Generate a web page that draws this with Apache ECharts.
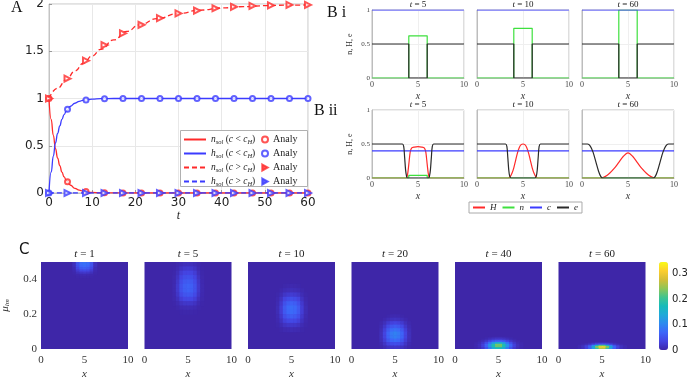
<!DOCTYPE html>
<html>
<head>
<meta charset="UTF-8">
<title>model panels</title>
<script src="https://cdn.jsdelivr.net/npm/echarts@6/dist/echarts.min.js"></script>
<style>
html, body { margin: 0; padding: 0; background: #fff; }
#main { width: 691px; height: 379px; }
</style>
</head>
<body>
<div id="main"></div>
<script>
// ---------- A : totals against t ----------
var tMarks = [0, 4.29, 8.57, 12.86, 17.14, 21.43, 25.71, 30, 34.29, 38.57, 42.86, 47.14, 51.43, 55.71, 60];
var nBelowMarks = [1, 0.12, 0.015, 0.002, 0, 0, 0, 0, 0, 0, 0, 0, 0, 0, 0];
var hBelowMarks = [0, 0.885, 0.985, 0.998, 1, 1, 1, 1, 1, 1, 1, 1, 1, 1, 1];
var nAboveMarks = [1, 1.21, 1.40, 1.565, 1.69, 1.78, 1.85, 1.9, 1.93, 1.955, 1.97, 1.98, 1.985, 1.99, 1.99];
var hAboveMarks = [0, 0, 0, 0, 0, 0, 0, 0, 0, 0, 0, 0, 0, 0, 0];

var tLine = [0, 0.5, 1, 1.5, 2, 2.5, 3, 3.5, 4, 5, 6, 7, 8, 10, 12, 15, 20, 30, 40, 50, 60];
var nBelowLine = [1, 0.78, 0.61, 0.47, 0.37, 0.29, 0.22, 0.17, 0.135, 0.082, 0.05, 0.03, 0.018, 0.007, 0.002, 0.001, 0, 0, 0, 0, 0];
var hBelowLine = [0, 0.22, 0.39, 0.53, 0.63, 0.71, 0.78, 0.83, 0.865, 0.918, 0.95, 0.97, 0.982, 0.993, 0.998, 1, 1, 1, 1, 1, 1];
var tAbove = [0, 2, 4, 6, 8, 10, 12, 15, 18, 21, 25, 30, 35, 40, 45, 50, 55, 60];
var nAboveLine = [1, 1.11, 1.2, 1.29, 1.375, 1.45, 1.52, 1.62, 1.71, 1.78, 1.845, 1.9, 1.935, 1.958, 1.972, 1.982, 1.988, 1.99];
var tFlat = [0, 60];
var hAboveLine = [0, 0];

// ---------- B : profiles along x ----------
var bTimes = ['5', '10', '60'];
var biC = [[0, 1], [10, 1]];
var biE = [[0, 0.5], [4, 0.5], [4, 0], [6, 0], [6, 0.5], [10, 0.5]];
var biN = [
  [[0, 0], [4, 0], [4, 0.62], [6, 0.62], [6, 0], [10, 0]],
  [[0, 0], [4, 0], [4, 0.73], [6, 0.73], [6, 0], [10, 0]],
  [[0, 0], [4, 0], [4, 1], [6, 1], [6, 0], [10, 0]]
];
var biiC = [[0, 0.4], [10, 0.4]];
var biiH = [
  [[0, 0], [3.7, 0], [3.85, 0.04], [4.0, 0.2], [4.15, 0.38], [4.3, 0.44], [4.6, 0.455], [5, 0.46], [5.4, 0.455], [5.7, 0.44], [5.85, 0.38], [6.0, 0.2], [6.15, 0.04], [6.3, 0], [10, 0]],
  [[0, 0], [3.4, 0], [3.6, 0.02], [3.8, 0.07], [4.0, 0.15], [4.2, 0.26], [4.4, 0.37], [4.6, 0.45], [4.8, 0.49], [5, 0.5], [5.2, 0.49], [5.4, 0.45], [5.6, 0.37], [5.8, 0.26], [6.0, 0.15], [6.2, 0.07], [6.4, 0.02], [6.6, 0], [10, 0]],
  [[0, 0], [2.1, 0], [2.5, 0.02], [3, 0.07], [3.5, 0.14], [4, 0.23], [4.5, 0.32], [5, 0.37], [5.5, 0.32], [6, 0.23], [6.5, 0.14], [7, 0.07], [7.5, 0.02], [7.9, 0], [10, 0]]
];
var biiN = [
  [[0, 0], [4, 0], [4, 0.04], [6, 0.04], [6, 0], [10, 0]],
  [[0, 0], [10, 0]],
  [[0, 0], [10, 0]]
];
var biiE = [
  [[0, 0.5], [3.3, 0.5], [3.45, 0.46], [3.55, 0.3], [3.65, 0.12], [3.75, 0.03], [3.85, 0], [6.15, 0], [6.25, 0.03], [6.35, 0.12], [6.45, 0.3], [6.55, 0.46], [6.7, 0.5], [10, 0.5]],
  [[0, 0.5], [3.1, 0.5], [3.25, 0.46], [3.35, 0.3], [3.45, 0.12], [3.55, 0.03], [3.7, 0], [6.3, 0], [6.45, 0.03], [6.55, 0.12], [6.65, 0.3], [6.75, 0.46], [6.9, 0.5], [10, 0.5]],
  [[0, 0.5], [0.6, 0.5], [0.9, 0.47], [1.2, 0.38], [1.5, 0.24], [1.8, 0.1], [2.05, 0.02], [2.25, 0], [7.75, 0], [7.95, 0.02], [8.2, 0.1], [8.5, 0.24], [8.8, 0.38], [9.1, 0.47], [9.4, 0.5], [10, 0.5]]
];

// ---------- C : density over (x, mu_lm) ----------
var cTimes = ['1', '5', '10', '20', '40', '60'];
var xs9 = [3.4, 3.8, 4.2, 4.6, 5.0, 5.4, 5.8, 6.2, 6.6];
var xs14 = [2.4, 2.8, 3.2, 3.6, 4.0, 4.4, 4.8, 5.2, 5.6, 6.0, 6.4, 6.8, 7.2, 7.6];
var cXs = [xs9, xs9, xs9, xs9, xs14, xs14];
var cMus = [
  [0.495, 0.485, 0.475, 0.465, 0.455, 0.445, 0.435, 0.425, 0.415],
  [0.4875, 0.4625, 0.4375, 0.4125, 0.3875, 0.3625, 0.3375, 0.3125, 0.2875, 0.2625, 0.2375, 0.2125],
  [0.3625, 0.3375, 0.3125, 0.2875, 0.2625, 0.2375, 0.2125, 0.1875, 0.1625, 0.1375, 0.1125],
  [0.19, 0.17, 0.15, 0.13, 0.11, 0.09, 0.07, 0.05, 0.03, 0.01],
  [0.065, 0.055, 0.045, 0.035, 0.025, 0.015, 0.005],
  [0.036, 0.028, 0.020, 0.012, 0.004]
];
var cVals = [
  [
    [0, 0.012, 0.05, 0.075, 0.08, 0.075, 0.05, 0.012, 0],
    [0, 0.012, 0.05, 0.074, 0.079, 0.074, 0.05, 0.012, 0],
    [0, 0.01, 0.045, 0.068, 0.073, 0.068, 0.045, 0.01, 0],
    [0, 0.008, 0.038, 0.058, 0.062, 0.058, 0.038, 0.008, 0],
    [0, 0.006, 0.028, 0.044, 0.048, 0.044, 0.028, 0.006, 0],
    [0, 0.004, 0.018, 0.028, 0.03, 0.028, 0.018, 0.004, 0],
    [0, 0.002, 0.009, 0.014, 0.016, 0.014, 0.009, 0.002, 0],
    [0, 0, 0.003, 0.005, 0.006, 0.005, 0.003, 0, 0],
    [0, 0, 0.001, 0.002, 0.002, 0.002, 0.001, 0, 0]
  ],
  [
    [0, 0.003, 0.008, 0.011, 0.012, 0.011, 0.008, 0.003, 0],
    [0.001, 0.006, 0.016, 0.022, 0.024, 0.022, 0.016, 0.006, 0.001],
    [0.002, 0.01, 0.026, 0.034, 0.036, 0.034, 0.026, 0.01, 0.002],
    [0.003, 0.015, 0.035, 0.045, 0.048, 0.045, 0.035, 0.015, 0.003],
    [0.004, 0.019, 0.043, 0.055, 0.058, 0.055, 0.043, 0.019, 0.004],
    [0.005, 0.022, 0.048, 0.061, 0.065, 0.061, 0.048, 0.022, 0.005],
    [0.005, 0.022, 0.048, 0.06, 0.064, 0.06, 0.048, 0.022, 0.005],
    [0.004, 0.018, 0.04, 0.051, 0.054, 0.051, 0.04, 0.018, 0.004],
    [0.003, 0.012, 0.028, 0.036, 0.038, 0.036, 0.028, 0.012, 0.003],
    [0.001, 0.006, 0.015, 0.019, 0.02, 0.019, 0.015, 0.006, 0.001],
    [0, 0.002, 0.006, 0.007, 0.008, 0.007, 0.006, 0.002, 0],
    [0, 0, 0.001, 0.002, 0.002, 0.002, 0.001, 0, 0]
  ],
  [
    [0, 0, 0.002, 0.003, 0.004, 0.003, 0.002, 0, 0],
    [0, 0.003, 0.007, 0.009, 0.01, 0.009, 0.007, 0.003, 0],
    [0.002, 0.008, 0.018, 0.023, 0.025, 0.023, 0.018, 0.008, 0.002],
    [0.004, 0.015, 0.033, 0.042, 0.045, 0.042, 0.033, 0.015, 0.004],
    [0.006, 0.022, 0.047, 0.06, 0.064, 0.06, 0.047, 0.022, 0.006],
    [0.008, 0.027, 0.056, 0.071, 0.075, 0.071, 0.056, 0.027, 0.008],
    [0.008, 0.027, 0.055, 0.069, 0.073, 0.069, 0.055, 0.027, 0.008],
    [0.006, 0.021, 0.045, 0.056, 0.06, 0.056, 0.045, 0.021, 0.006],
    [0.004, 0.014, 0.03, 0.038, 0.04, 0.038, 0.03, 0.014, 0.004],
    [0.002, 0.007, 0.015, 0.019, 0.02, 0.019, 0.015, 0.007, 0.002],
    [0, 0.002, 0.005, 0.006, 0.007, 0.006, 0.005, 0.002, 0]
  ],
  [
    [0, 0, 0.002, 0.004, 0.005, 0.004, 0.002, 0, 0],
    [0, 0.004, 0.009, 0.013, 0.015, 0.013, 0.009, 0.004, 0],
    [0.003, 0.011, 0.023, 0.031, 0.034, 0.031, 0.023, 0.011, 0.003],
    [0.006, 0.02, 0.04, 0.053, 0.058, 0.053, 0.04, 0.02, 0.006],
    [0.009, 0.029, 0.056, 0.073, 0.08, 0.073, 0.056, 0.029, 0.009],
    [0.011, 0.034, 0.066, 0.087, 0.095, 0.087, 0.066, 0.034, 0.011],
    [0.011, 0.033, 0.064, 0.084, 0.092, 0.084, 0.064, 0.033, 0.011],
    [0.009, 0.027, 0.052, 0.068, 0.074, 0.068, 0.052, 0.027, 0.009],
    [0.005, 0.017, 0.032, 0.043, 0.046, 0.043, 0.032, 0.017, 0.005],
    [0.002, 0.007, 0.014, 0.018, 0.02, 0.018, 0.014, 0.007, 0.002]
  ],
  [
    [0, 0, 0, 0.002, 0.004, 0.007, 0.009, 0.009, 0.007, 0.004, 0.002, 0, 0, 0],
    [0, 0, 0.003, 0.008, 0.015, 0.022, 0.027, 0.027, 0.022, 0.015, 0.008, 0.003, 0, 0],
    [0, 0.004, 0.01, 0.022, 0.04, 0.06, 0.07, 0.07, 0.06, 0.04, 0.022, 0.01, 0.004, 0],
    [0.003, 0.008, 0.02, 0.045, 0.08, 0.12, 0.145, 0.145, 0.12, 0.08, 0.045, 0.02, 0.008, 0.003],
    [0.004, 0.012, 0.03, 0.065, 0.115, 0.18, 0.23, 0.23, 0.18, 0.115, 0.065, 0.03, 0.012, 0.004],
    [0.004, 0.012, 0.03, 0.065, 0.115, 0.18, 0.225, 0.225, 0.18, 0.115, 0.065, 0.03, 0.012, 0.004],
    [0.003, 0.009, 0.022, 0.05, 0.09, 0.14, 0.17, 0.17, 0.14, 0.09, 0.05, 0.022, 0.009, 0.003]
  ],
  [
    [0, 0, 0, 0.003, 0.006, 0.01, 0.012, 0.012, 0.01, 0.006, 0.003, 0, 0, 0],
    [0, 0.003, 0.008, 0.016, 0.03, 0.045, 0.055, 0.055, 0.045, 0.03, 0.016, 0.008, 0.003, 0],
    [0.004, 0.01, 0.025, 0.05, 0.1, 0.17, 0.22, 0.22, 0.17, 0.1, 0.05, 0.025, 0.01, 0.004],
    [0.006, 0.015, 0.035, 0.075, 0.15, 0.25, 0.32, 0.32, 0.25, 0.15, 0.075, 0.035, 0.015, 0.006],
    [0.005, 0.012, 0.028, 0.06, 0.12, 0.2, 0.26, 0.26, 0.2, 0.12, 0.06, 0.028, 0.012, 0.005]
  ]
];
var cMax = 0.345;
var parula = ['#3e26a8', '#4444e2', '#3d66f9', '#2d8aef', '#1fa9d9', '#16bbba', '#41c48f', '#8fc656', '#d4bd37', '#fcce2e', '#f9fb15'];

// ---------- helpers ----------
var SERIF = '"Liberation Serif", "DejaVu Serif", serif';
var SANS = '"DejaVu Sans", sans-serif';
var RED = '#ff2a2a', BLUE = '#3b3bff', GREEN = '#3ee03e', BLACK = '#2a2a2a';
var TRI_RIGHT = 'path://M0,0L9,5L0,10Z';

function zip(xs, ys) {
  var out = [];
  for (var i = 0; i < xs.length; i++) out.push([xs[i], ys[i]]);
  return out;
}

function cells(k) {
  var xs = cXs[k], mus = cMus[k], vals = cVals[k];
  var dx = xs[1] - xs[0], dm = Math.abs(mus[1] - mus[0]);
  var out = [];
  for (var i = 0; i < mus.length; i++) {
    for (var j = 0; j < xs.length; j++) {
      if (vals[i][j] > 0) out.push([xs[j], mus[i], vals[i][j], dx, dm]);
    }
  }
  return out;
}

var grids = [], xAxes = [], yAxes = [], series = [], titles = [];

// panel A grid
grids.push({ left: 49, top: 4, width: 259, height: 189, show: true, borderColor: '#c4c4c4', borderWidth: 1, outerBoundsMode: 'none' });
xAxes.push({
  type: 'value', gridIndex: 0, min: 0, max: 60, interval: 10,
  name: 't', nameLocation: 'middle', nameGap: 17,
  nameTextStyle: { fontFamily: SERIF, fontStyle: 'italic', fontSize: 12, color: '#222' },
  axisLine: { lineStyle: { color: '#c4c4c4' } },
  axisTick: { show: true, inside: true, length: 3, lineStyle: { color: '#999' } },
  axisLabel: { fontFamily: SANS, fontSize: 12, color: '#222', margin: 4 },
  splitLine: { show: true, lineStyle: { color: '#e8e8e8', width: 1 } }
});
yAxes.push({
  type: 'value', gridIndex: 0, min: 0, max: 2, interval: 0.5,
  axisLine: { show: true, lineStyle: { color: '#c4c4c4' } },
  axisTick: { show: true, inside: true, length: 3, lineStyle: { color: '#999' } },
  axisLabel: { fontFamily: SANS, fontSize: 12, color: '#222', margin: 5 },
  splitLine: { show: true, lineStyle: { color: '#e8e8e8', width: 1 } }
});

function aLine(name, xs, ys, color, dashed) {
  series.push({
    name: name, type: 'line', xAxisIndex: 0, yAxisIndex: 0, data: zip(xs, ys),
    smooth: true, smoothMonotone: 'x', symbol: 'none', showSymbol: false, color: color,
    lineStyle: { color: color, width: 1.3, type: dashed ? [5, 3] : 'solid' }, z: 2
  });
}
function aMarks(name, ys, color, tri) {
  series.push({
    name: name, type: 'scatter', xAxisIndex: 0, yAxisIndex: 0, data: zip(tMarks, ys),
    symbol: tri ? 'emptyTriangle' : 'emptyCircle', symbolSize: tri ? 6 : 5, symbolRotate: tri ? -90 : 0,
    color: color, itemStyle: { color: color, borderColor: color, borderWidth: 1.6 }, z: 3
  });
}
aLine('nBelow', tLine, nBelowLine, RED, false);
aLine('hBelow', tLine, hBelowLine, BLUE, false);
aLine('nAbove', tAbove, nAboveLine, RED, true);
aLine('hAbove', tFlat, hAboveLine, BLUE, true);
aMarks('mark1', nBelowMarks, RED, false);
aMarks('mark2', hBelowMarks, BLUE, false);
aMarks('mark3', nAboveMarks, RED, true);
aMarks('mark4', hAboveMarks, BLUE, true);

// panels B i and B ii
var bLefts = [372, 477, 582];
var bTops = [10, 110];
function bGrid(left, top, first) {
  var g = grids.length;
  grids.push({ left: left, top: top, width: 92, height: 68, show: true, borderColor: '#bdbdbd', borderWidth: 1, outerBoundsMode: 'none' });
  xAxes.push({
    type: 'value', gridIndex: g, min: 0, max: 10, interval: 5,
    name: 'x', nameLocation: 'middle', nameGap: 13,
    nameTextStyle: { fontFamily: SERIF, fontStyle: 'italic', fontSize: 10, color: '#333' },
    axisLine: { lineStyle: { color: '#bdbdbd' } },
    axisTick: { show: false },
    axisLabel: { fontFamily: SERIF, fontSize: 8, color: '#444', margin: 3 },
    splitLine: { show: true, lineStyle: { color: '#efefef' } }
  });
  yAxes.push({
    type: 'value', gridIndex: g, min: 0, max: 1, interval: 0.5,
    name: first ? 'n, H, e' : '', nameLocation: 'middle', nameGap: 18,
    nameTextStyle: { fontFamily: SERIF, fontSize: 8, color: '#333' },
    axisLine: { show: true, lineStyle: { color: '#bdbdbd' } },
    axisTick: { show: false },
    axisLabel: { show: first, fontFamily: SERIF, fontSize: 7, color: '#444', margin: 2 },
    splitLine: { show: true, lineStyle: { color: '#efefef' } }
  });
  return g;
}
function bLine(name, g, data, color, smooth) {
  series.push({
    name: name, type: 'line', xAxisIndex: g, yAxisIndex: g, data: data,
    smooth: smooth ? 0.3 : false, symbol: 'none', showSymbol: false, color: color,
    lineStyle: { color: color, width: 1.2 }
  });
}
function bTitle(k, top) {
  titles.push({ text: '{i|t} = ' + bTimes[k], left: bLefts[k] + 46, top: top, textAlign: 'center', padding: 0,
    textStyle: { fontFamily: SERIF, fontSize: 9, fontWeight: 'normal', color: '#222', rich: { i: { fontFamily: SERIF, fontSize: 9, fontStyle: 'italic', color: '#222' } } } });
}
for (var k = 0; k < 3; k++) {
  var g1 = bGrid(bLefts[k], bTops[0], k === 0);
  bLine('n', g1, biN[k], GREEN, false);
  bLine('c', g1, biC, BLUE, false);
  bLine('e', g1, biE, BLACK, false);
  bTitle(k, 0);
}
for (var k2 = 0; k2 < 3; k2++) {
  var g2 = bGrid(bLefts[k2], bTops[1], k2 === 0);
  bLine('H', g2, biiH[k2], RED, true);
  bLine('n', g2, biiN[k2], GREEN, false);
  bLine('c', g2, biiC, BLUE, false);
  bLine('e', g2, biiE[k2], BLACK, true);
  bTitle(k2, 100);
}

// panel C
var cLefts = [41, 144.5, 248, 351.5, 455, 558.5];
var cIdx = [];
for (var m = 0; m < 6; m++) {
  var g3 = grids.length;
  grids.push({ left: cLefts[m], top: 262, width: 87, height: 87, show: true, backgroundColor: parula[0], borderWidth: 0, outerBoundsMode: 'none' });
  xAxes.push({
    type: 'value', gridIndex: g3, min: 0, max: 10, interval: 5,
    name: 'x', nameLocation: 'middle', nameGap: 20,
    nameTextStyle: { fontFamily: SERIF, fontStyle: 'italic', fontSize: 11, color: '#333' },
    axisLine: { show: false }, axisTick: { show: false },
    axisLabel: { fontFamily: SERIF, fontSize: 11, color: '#333', margin: 6 },
    splitLine: { show: false }
  });
  yAxes.push({
    type: 'value', gridIndex: g3, min: 0, max: 0.5, interval: 0.2,
    name: m === 0 ? '{i|μ}{s|lm}' : '', nameLocation: 'middle', nameGap: 30,
    nameTextStyle: { fontFamily: SERIF, fontSize: 11, color: '#333',
      rich: { i: { fontFamily: SERIF, fontStyle: 'italic', fontSize: 11 }, s: { fontFamily: SERIF, fontStyle: 'italic', fontSize: 7, lineHeight: 6, verticalAlign: 'bottom' } } },
    axisLine: { show: false }, axisTick: { show: false },
    axisLabel: { show: m === 0, showMaxLabel: false, fontFamily: SERIF, fontSize: 11, color: '#333', margin: 4 },
    splitLine: { show: false }
  });
  cIdx.push(series.length);
  series.push({
    name: 'density' + m, type: 'custom', coordinateSystem: 'cartesian2d', xAxisIndex: g3, yAxisIndex: g3,
    data: cells(m), encode: { x: 0, y: 1 }, clip: true,
    renderItem: function (params, api) {
      var x = api.value(0), mu = api.value(1), w = api.value(3), h = api.value(4);
      var p0 = api.coord([x - w / 2, mu + h / 2]);
      var p1 = api.coord([x + w / 2, mu - h / 2]);
      return { type: 'rect', shape: { x: p0[0], y: p0[1], width: p1[0] - p0[0] + 0.6, height: p1[1] - p0[1] + 0.6 },
        style: { fill: api.visual('color') } };
    }
  });
  titles.push({ text: '{i|t} = ' + cTimes[m], left: cLefts[m] + 43.5, top: 249, textAlign: 'center', padding: 0,
    textStyle: { fontFamily: SERIF, fontSize: 11, fontWeight: 'normal', color: '#222', rich: { i: { fontFamily: SERIF, fontSize: 11, fontStyle: 'italic', color: '#222' } } } });
}

// colorbar axis
var gcb = grids.length;
grids.push({ left: 659, top: 262, width: 9, height: 88, show: false, outerBoundsMode: 'none' });
xAxes.push({ type: 'value', gridIndex: gcb, show: false, min: 0, max: 1 });
yAxes.push({
  type: 'value', gridIndex: gcb, position: 'right', min: 0, max: cMax, interval: 0.1,
  axisLine: { show: false }, axisTick: { show: false }, splitLine: { show: false },
  axisLabel: { showMaxLabel: false, fontFamily: SANS, fontSize: 10, color: '#222', margin: 4 }
});

// panel letters
var letter = { fontFamily: SERIF, fontSize: 16, fontWeight: 'normal', color: '#111' };
titles.push({ text: 'A', left: 11, top: 0, padding: 0, textStyle: letter });
titles.push({ text: 'B i', left: 327, top: 5, padding: 0, textStyle: letter });
titles.push({ text: 'B ii', left: 314, top: 103, padding: 0, textStyle: letter });
titles.push({ text: 'C', left: 19, top: 243, padding: 0, textStyle: { fontFamily: SANS, fontSize: 15, fontWeight: 'normal', color: '#111' } });

var aNames = {
  nBelow: '{i|n}{s|sol} ({i|c} < {i|c}{s|H})',
  hBelow: '{i|h}{s|sol} ({i|c} < {i|c}{s|H})',
  nAbove: '{i|n}{s|sol} ({i|c} > {i|c}{s|H})',
  hAbove: '{i|h}{s|sol} ({i|c} > {i|c}{s|H})'
};
var legRich = {
  i: { fontFamily: SERIF, fontStyle: 'italic', fontSize: 9.5, color: '#222' },
  s: { fontFamily: SERIF, fontStyle: 'italic', fontSize: 6.5, lineHeight: 6, verticalAlign: 'bottom', color: '#222' }
};

var option = {
  animation: false,
  backgroundColor: '#fff',
  textStyle: { fontFamily: SERIF },
  title: titles,
  grid: grids,
  xAxis: xAxes,
  yAxis: yAxes,
  visualMap: {
    type: 'continuous', min: 0, max: cMax, dimension: 2, seriesIndex: cIdx,
    inRange: { color: parula }, show: true, orient: 'vertical',
    left: 659, top: 262, itemWidth: 9, itemHeight: 88, padding: 0,
    calculable: false, hoverLink: false, text: null
  },
  legend: [
    {
      data: ['nBelow', 'hBelow', 'nAbove', 'hAbove'], orient: 'vertical', left: 183, top: 133,
      itemWidth: 22, itemHeight: 8, itemGap: 1, padding: 0, selectedMode: false,
      itemStyle: { opacity: 0 },
      formatter: function (n) { return aNames[n]; },
      textStyle: { fontFamily: SERIF, fontSize: 9.5, color: '#222', lineHeight: 13, rich: legRich }
    },
    {
      data: [{ name: 'mark1' }, { name: 'mark2' }, { name: 'mark3', icon: TRI_RIGHT }, { name: 'mark4', icon: TRI_RIGHT }],
      orient: 'vertical', left: 261, top: 133,
      itemWidth: 6, itemHeight: 6, itemGap: 1, padding: 0, selectedMode: false,
      formatter: function () { return 'Analy'; },
      textStyle: { fontFamily: SERIF, fontSize: 10, color: '#222', lineHeight: 13 }
    },
    {
      data: ['H', 'n', 'c', 'e'], orient: 'horizontal', left: 469, top: 202,
      itemWidth: 12, itemHeight: 6, itemGap: 5, padding: [1, 4, 1, 3], selectedMode: false,
      itemStyle: { opacity: 0 },
      borderColor: '#aaa', borderWidth: 1, backgroundColor: '#fff',
      textStyle: { fontFamily: SERIF, fontStyle: 'italic', fontSize: 9, color: '#222' }
    }
  ],
  graphic: [
    { type: 'rect', left: 180, top: 130, z: 3, shape: { width: 127, height: 56 }, style: { fill: '#fff', stroke: '#b0b0b0', lineWidth: 1 } }
  ],
  series: series
};

var myChart = echarts.init(document.getElementById('main'));
myChart.setOption(option);
</script>
</body>
</html>
